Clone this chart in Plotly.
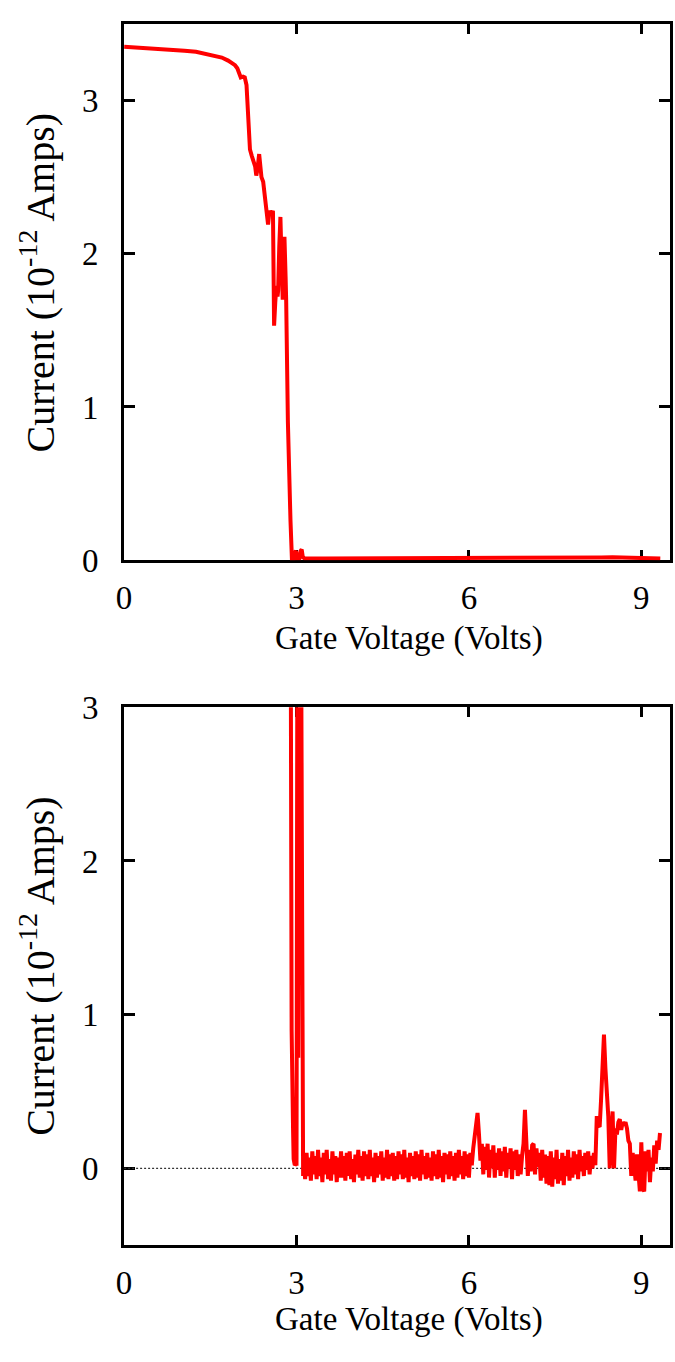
import plotly.graph_objects as go

# ---------------- upper panel: full sweep ----------------
top_voltage = [0.00, 0.25, 0.55, 0.85, 1.05, 1.25, 1.42, 1.59, 1.70, 1.81,
               1.88, 1.93, 1.97, 2.00, 2.03, 2.07, 2.10, 2.13, 2.15, 2.17,
               2.19, 2.22, 2.25, 2.28, 2.30, 2.32, 2.35, 2.37, 2.39, 2.42,
               2.45, 2.47, 2.49, 2.505, 2.53, 2.56, 2.59, 2.60, 2.61, 2.63,
               2.65, 2.67, 2.68, 2.70, 2.72, 2.74, 2.76, 2.78, 2.79, 2.81,
               2.82, 2.85, 2.87, 2.895, 2.92, 2.95, 2.97, 2.99, 3.01, 3.05,
               3.07, 3.09, 3.11, 3.14, 3.50, 4.50, 5.50, 6.50, 7.50, 8.20,
               8.30, 8.50, 8.70, 8.80, 9.33]
top_current = [3.350, 3.345, 3.340, 3.335, 3.325, 3.318, 3.305, 3.290, 3.280, 3.260,
               3.245, 3.230, 3.210, 3.170, 3.150, 3.155, 3.150, 3.100, 2.980, 2.800,
               2.680, 2.640, 2.610, 2.570, 2.510, 2.550, 2.650, 2.580, 2.500, 2.470,
               2.360, 2.300, 2.250, 2.190, 2.280, 2.250, 2.280, 1.850, 1.530, 1.680,
               1.790, 1.720, 1.760, 2.050, 2.240, 1.950, 1.700, 2.080, 2.110, 1.850,
               1.700, 0.900, 0.550, 0.260, 0.010, 0.010, 0.050, 0.060, 0.012, 0.012,
               0.060, 0.070, 0.020, 0.012, 0.012, 0.012, 0.012, 0.012, 0.012, 0.012,
               0.018, 0.019, 0.017, 0.012, 0.012]

# ---------------- lower panel: turn-off spikes ----------------
spike_voltage = [2.86, 2.90, 2.915, 2.925, 2.94, 2.95, 2.97, 2.99, 3.00, 3.015,
                 3.03, 3.045, 3.08, 3.10, 3.115]
spike_current = [3.40, 3.40, 0.90, 0.29, 0.25, 0.06, 0.02, 0.03, 0.03, 3.50,
                 0.72, 3.50, 3.50, 0.80, -0.05]

# lower panel: sub-threshold noise, sampled every 25 mV from 3.125 V
noise_start = 3.125
noise_step = 0.025
noise_current = [
    0.06, -0.07, 0.10, -0.05, 0.07, -0.08, 0.11, -0.04, 0.08, -0.07,
    0.12, -0.05, 0.07, -0.09, 0.10, -0.04, 0.12, -0.07, 0.06, -0.08,
    0.11, -0.04, 0.08, -0.09, 0.07, -0.06, 0.11, -0.06, 0.08, -0.08,
    0.10, -0.05, 0.11, -0.07, 0.06, -0.09, 0.09, -0.04, 0.12, -0.06,
    0.08, -0.08, 0.11, -0.05, 0.09, -0.07, 0.12, -0.05, 0.07, -0.09,
    0.10, -0.06, 0.08, -0.04, 0.11, -0.08, 0.07, -0.06, 0.12, -0.07,
    0.09, -0.05, 0.10, -0.08, 0.08, -0.07, 0.11, -0.04, 0.09, -0.07,
    0.12, -0.06, 0.07, -0.09, 0.10, -0.05, 0.08, -0.07, 0.11, -0.06,
    0.09, -0.08, 0.12, -0.04, 0.08, -0.07, 0.10, -0.06, 0.07, -0.08,
    0.11, -0.05, 0.09, -0.07, 0.12, -0.06, 0.08, -0.09, 0.10, -0.04,
    0.09, -0.07, 0.11, -0.05, 0.08, -0.08, 0.10, -0.06, 0.12, -0.04,
    0.08, -0.07, 0.11, -0.05, 0.09, -0.06, 0.10, 0.02, 0.13, 0.21,
    0.30, 0.36, 0.22, 0.05, 0.16, -0.04, 0.14, -0.01, 0.16, -0.06,
    0.12, 0.00, 0.15, -0.06, 0.10, -0.01, 0.13, -0.05, 0.11, -0.02,
    0.14, -0.06, 0.10, 0.00, 0.13, -0.07, 0.11, -0.01, 0.12, -0.05,
    0.09, -0.04, 0.08, 0.16, 0.38, 0.13, -0.05, 0.12, -0.02, 0.15,
    0.16, -0.04, 0.13, 0.01, 0.10, -0.08, 0.12, -0.06, 0.09, -0.10,
    0.08, -0.11, 0.11, -0.12, 0.07, -0.07, 0.12, -0.10, 0.06, -0.08,
    0.10, -0.11, 0.08, -0.05, 0.12, -0.08, 0.07, -0.06, 0.11, -0.04,
    0.09, -0.07, 0.12, -0.02, 0.08, -0.05, 0.10, -0.01, 0.11, -0.04,
    0.08, 0.00, 0.10, 0.02, 0.34, 0.28, 0.27, 0.45, 0.62, 0.87,
    0.65, 0.50, 0.34, 0.00, 0.23, 0.37, 0.00, 0.26, 0.22, 0.30,
    0.32, 0.25, 0.30, 0.28, 0.30, 0.26, 0.18, 0.16, -0.05, 0.10,
    0.02, -0.08, 0.09, -0.04, -0.15, 0.17, -0.13, -0.15, 0.11, -0.02,
    0.12, -0.09, 0.07, -0.02, 0.15, 0.03, 0.18, 0.12, 0.23,
]
noise_voltage = [noise_start + noise_step * k for k in range(len(noise_current))]

bottom_voltage = spike_voltage + noise_voltage
bottom_current = spike_current + noise_current

x_ticks = [0, 3, 6, 9]
y_ticks = [0, 1, 2, 3]
x_title = "Gate Voltage (Volts)"
y_title = "Current (10<sup>-12</sup> Amps)"

W, H = 675, 1362
FONT = "Liberation Serif, Times New Roman, serif"
RED = "#ff0000"

fig = go.Figure()

# dotted zero reference in the lower panel
fig.add_trace(go.Scatter(x=[0, 9.5], y=[0, 0], xaxis="x2", yaxis="y2", mode="lines",
                         line=dict(color="#333333", width=1.2, dash="2px,2px"),
                         hoverinfo="skip", showlegend=False))
fig.add_trace(go.Scatter(x=top_voltage, y=top_current, xaxis="x", yaxis="y", mode="lines",
                         line=dict(color=RED, width=4), showlegend=False))
fig.add_trace(go.Scatter(x=bottom_voltage, y=bottom_current, xaxis="x2", yaxis="y2",
                         mode="lines", line=dict(color=RED, width=4), showlegend=False))

def px_x(p):
    return p / W

def px_y(p):
    return 1 - p / H

axis_common = dict(showline=True, mirror="allticks", linecolor="black", linewidth=3,
                   ticks="inside", tickwidth=3, tickcolor="black", showgrid=False,
                   zeroline=False, layer="below traces",
                   tickfont=dict(family=FONT, size=33, color="black"))

x_dom = [px_x(117.5), px_x(670)]
fig.update_layout(
    width=W, height=H, margin=dict(l=0, r=0, t=0, b=0),
    paper_bgcolor="white", plot_bgcolor="white", showlegend=False,
    xaxis=dict(domain=x_dom, range=[0, 9.5], tickvals=x_ticks, ticklen=10,
               anchor="y", ticklabelstandoff=6, **axis_common),
    yaxis=dict(domain=[px_y(558), px_y(7)], range=[0, 3.5], tickvals=y_ticks,
               ticklen=11, anchor="x", ticklabelstandoff=16, **axis_common),
    xaxis2=dict(domain=x_dom, range=[0, 9.5], tickvals=x_ticks, ticklen=10,
                anchor="y2", ticklabelstandoff=6, **axis_common),
    yaxis2=dict(domain=[px_y(1261.5), px_y(709)], range=[-0.5, 3], tickvals=y_ticks,
                ticklen=11, anchor="x2", ticklabelstandoff=16, **axis_common),
)

for xt_y, yt_y in [(638, 273), (1338, 975)]:
    fig.add_annotation(x=px_x(406), y=px_y(xt_y), xref="paper", yref="paper",
                       text=x_title, showarrow=False, xanchor="center", yanchor="middle",
                       font=dict(family=FONT, size=33, color="black"))
    fig.add_annotation(x=px_x(30), y=px_y(yt_y), xref="paper", yref="paper",
                       text=y_title, showarrow=False, textangle=-90,
                       xanchor="center", yanchor="middle",
                       font=dict(family=FONT, size=40, color="black"))

fig.write_html("out.html")
